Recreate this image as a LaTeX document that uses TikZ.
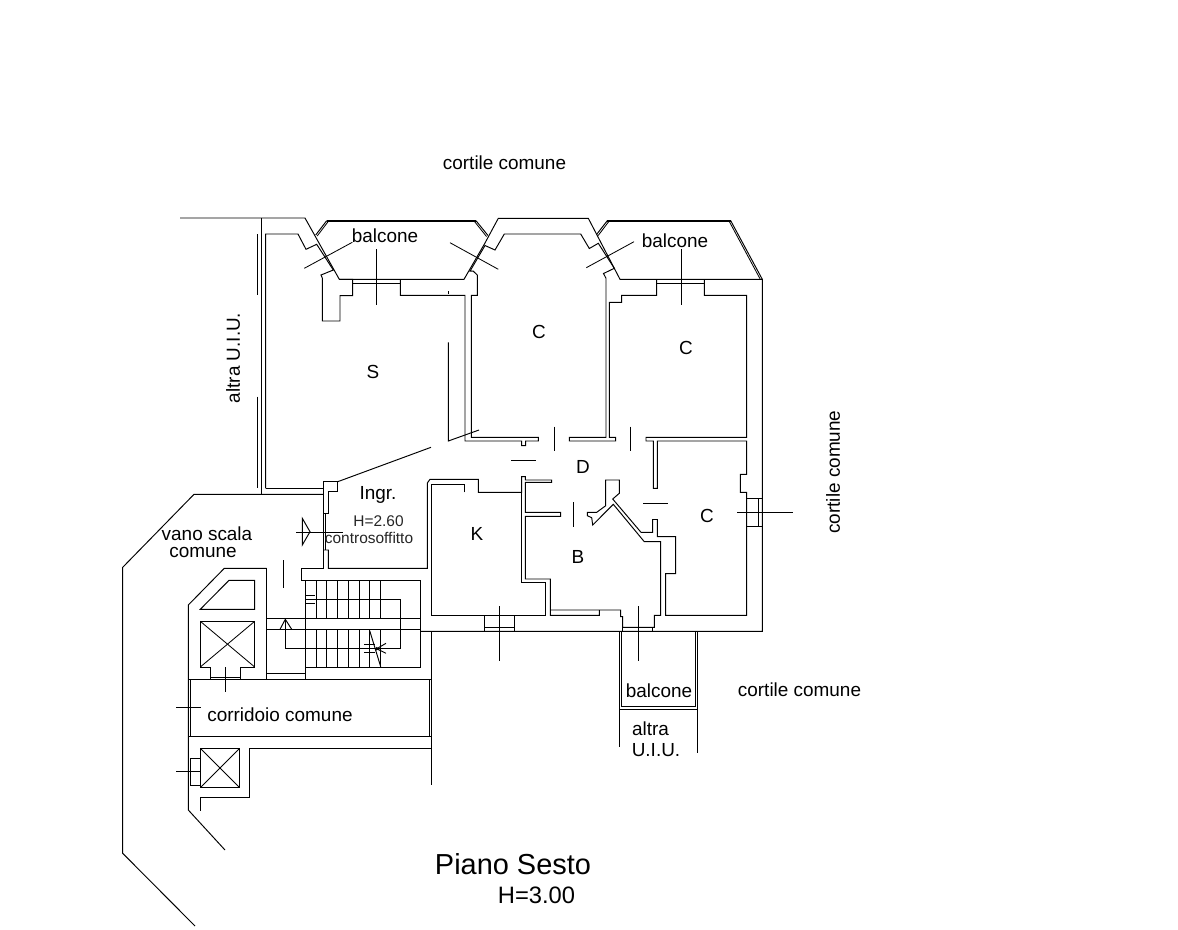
\documentclass[tikz,border=0pt]{standalone}
\usepackage{fontspec}
\setmainfont{Liberation Sans}
\tikzset{
  wall/.style={line width=0.72pt,black,line join=miter},
  thin line/.style={line width=0.62pt,black},
  heavy/.style={line width=1.6pt,black},
  lbl/.style={inner sep=0pt,yshift=-0.75pt,font=\fontsize{14.2}{16}\selectfont},
  smalllbl/.style={inner sep=0pt,font=\fontsize{11.6}{13}\selectfont,text=black!85},
}
\begin{document}
\begin{tikzpicture}[x=0.75pt,y=-0.75pt]
\useasboundingbox (0,0) rectangle (1178,929);
\fill[white] (0,0) rectangle (1178,929);

% ---- outer top edge & S room
\draw[wall] (180,218) -- (305,218) -- (339.3,279.3) -- (352.7,279.3) -- (352.7,295.7) -- (340,295.7) -- (340,321) -- (322.3,321) -- (322.3,278) -- (321,275) -- (333.3,270);
\draw[wall] (261.7,218) -- (261.7,494.3);
\draw[wall] (257.7,234) -- (257.7,295);
\draw[wall] (257.7,396.7) -- (257.7,488.3);
\draw[wall] (265.7,488.3) -- (265.7,234) -- (298,234) -- (306,249.3) -- (316.7,244.3) -- (333.3,270);
\draw[wall] (352.7,283.3) -- (400.3,283.3);
\draw[wall] (339.3,279.3) -- (464,279.3) -- (485,243) -- (498.3,218.3) -- (588.3,218.3) -- (620,279.3) -- (762.3,279.3) -- (762.3,631.3) -- (420.7,631.3);
\draw[wall] (400.3,279.3) -- (400.3,295.3) -- (465,295.3) -- (465,441) -- (521.7,441) -- (521.7,445.7) -- (525.7,445.7) -- (525.7,441) -- (538.3,441) -- (538.3,437.3) -- (471.3,437.3) -- (471.3,295.3) -- (477.3,295.3) -- (477.3,275) -- (473.3,271.2) -- (470,271.2) -- (485,245.5) -- (495,250) -- (504.3,234) -- (580.7,234) -- (589.3,248.5) -- (598.3,243.3) -- (614.3,268.3) -- (603.5,273.5) -- (606,278.3) -- (606,437.3) -- (569.3,437.3) -- (569.3,441) -- (615.7,441) -- (615.7,437.3) -- (609.3,437.3) -- (609.3,302.3) -- (621.7,302.3) -- (621.7,295.3) -- (656.7,295.3) -- (656.7,279.3);
\draw[wall] (656.7,283.3) -- (704.3,283.3);
\draw[wall] (704.3,279.3) -- (704.3,295.3) -- (746.7,295.3) -- (746.7,437.3) -- (646,437.3) -- (646,441) -- (653.3,441) -- (653.3,488.3) -- (657.3,488.3) -- (657.3,441) -- (746.7,441) -- (746.7,474.3) -- (740.3,474.3) -- (740.3,492.3) -- (746.7,492.3) -- (746.7,615.3) -- (665.7,615.3) -- (665.7,573.7) -- (675.7,573.7) -- (675.7,536.7) -- (657.3,536.7) -- (657.3,519.5) -- (652.7,519.5) -- (652.7,532.3) -- (641,532.3) -- (612.7,499) -- (619.3,493.3) -- (619.3,480) -- (605.7,480) -- (605.7,505.7) -- (596.7,512.3) -- (587.3,512.3) -- (587.3,515.7) -- (591.7,517.7) -- (592.7,525) -- (613.3,504.3) -- (644.3,541.7) -- (660.7,541.7) -- (660.7,615.3) -- (654.3,615.3) -- (654.3,627.3) -- (622.7,627.3) -- (622.7,616.7) -- (620.7,616.7) -- (620.7,610) -- (550.3,610);
\draw[wall] (622.7,631.3) -- (622.7,627.3);
\draw[wall] (652.7,631.3) -- (652.7,627.3);
\draw[wall] (746.7,498.3) -- (762.3,498.3);
\draw[wall] (746.7,526.7) -- (762.3,526.7);
\draw[wall] (758.7,498.3) -- (758.7,526.7);

% ---- balconies, top
\draw[heavy] (326.7,220.7) -- (476,220.7);
\draw[heavy] (607.3,220.7) -- (730.7,220.7);
\draw[wall] (326.7,220.7) -- (315.7,235);
\draw[thin line] (328.2,221.5) -- (317.2,236);
\draw[wall] (476,220.7) -- (488,235.5);
\draw[thin line] (474.5,221.5) -- (486.5,236.5);
\draw[wall] (607.3,220.7) -- (596.7,234.3);
\draw[thin line] (608.8,221.5) -- (598.2,235.5);
\draw[wall] (730.7,220.7) -- (762.3,279.3);
\draw[thin line] (729.3,221.5) -- (760.3,279.3);

% ---- hall to S room
\draw[wall] (265.7,488.3) -- (323.3,488.3) -- (323.3,481.7) -- (337.7,481.7) -- (337.7,491.7) -- (328.3,491.7) -- (328.3,513.3) -- (323.3,513.3);
\draw[wall] (323.3,550) -- (328.3,550) -- (328.3,568.3) -- (427.3,568.3) -- (427.3,483) -- (430,479.3) -- (478.3,479.3) -- (478.3,492.3) -- (521.7,492.3) -- (521.7,476.7) -- (525.3,476.7) -- (525.3,480) -- (551.7,480) -- (551.7,482.3) -- (525.3,482.3) -- (525.3,512.3) -- (560.7,512.3) -- (560.7,516.3) -- (525.3,516.3) -- (525.3,579) -- (550.3,579) -- (550.3,615.3) -- (599.3,615.3) -- (599.3,610);
\draw[wall] (337.7,481.7) -- (431,447.3);
\draw[wall] (448.3,342.3) -- (448.3,441) -- (479,430);
\draw[thin line] (448.3,291) -- (448.3,294);

% ---- K
\draw[wall] (464.3,492.3) -- (464.3,484.3) -- (431.3,484.3) -- (431.3,615.3) -- (545.7,615.3) -- (545.7,582.7) -- (521.7,582.7) -- (521.7,492.3);
\draw[wall] (484.3,615.3) -- (484.3,631.3);
\draw[wall] (514.3,615.3) -- (514.3,631.3);
\draw[wall] (484.3,627.3) -- (514.3,627.3);

% ---- stair block and common parts
\draw[wall] (323.3,494.3) -- (194,494.3) -- (122.7,567.3) -- (122.7,853.3) -- (195,926);
\draw[wall] (323.3,481.7) -- (323.3,568.3) -- (301.7,568.3) -- (301.7,580.7) -- (420.7,580.7) -- (420.7,667.3) -- (305.7,667.3);
\draw[thin line] (325.6,513.3) -- (325.6,550);
\draw[wall] (266.7,568.3) -- (224.3,568.3) -- (188.3,605) -- (188.3,810) -- (225,850);
\draw[wall] (266.7,568.3) -- (266.7,679);
\draw[wall] (229,580.3) -- (254.7,580.3) -- (254.7,609.3) -- (200.3,609.3) -- cycle;
\draw[wall] (210.3,679) -- (210.3,667) -- (200.3,667) -- (200.3,621.3) -- (254.7,621.3) -- (254.7,667) -- (240,667) -- (240,679);
\draw[thin line] (200.3,621.3) -- (254.7,667);
\draw[thin line] (254.7,621.3) -- (200.3,667);
\draw[wall] (210.3,677.3) -- (240,677.3);
\draw[wall] (305.7,580.7) -- (305.7,679);
\draw[wall] (266.7,618.3) -- (420.7,618.3);
\draw[wall] (266.7,629.3) -- (420.7,629.3);
\draw[wall] (266.7,673.3) -- (305.7,673.3);
\draw[wall] (305.7,599.3) -- (400.7,599.3) -- (400.7,648.3) -- (285.3,648.3) -- (285.3,619.3);
\foreach \xx in {316.3,326.7,337.7,348.7,359.3,369.7,380.7} {
  \draw[wall] (\xx,580.7) -- (\xx,618.3);
  \draw[wall] (\xx,629.3) -- (\xx,667.3);
}
\draw[wall] (280,629.3) -- (285.3,619.3) -- (291.7,629.3);
\draw[wall] (305.7,595.3) -- (315,595.3);
\draw[wall] (305.7,603.3) -- (315,603.3);
\draw[wall] (369.7,630.7) -- (380.7,666.7);
\draw[wall] (364,644.7) -- (375,644.7);
\draw[wall] (364,652.3) -- (375,652.3);
\draw[wall] (386,643.3) -- (376.7,648.7) -- (386,653.3);
\fill (376.7,648.7) circle (1.8);
\draw[wall] (302.3,518.3) -- (310,531.7) -- (302.3,545) -- cycle;

% ---- corridor
\draw[wall] (188.3,679.3) -- (431.7,679.3);
\draw[wall] (431.7,631.3) -- (431.7,785);
\draw[thin line] (190.6,679.3) -- (190.6,736.3);
\draw[thin line] (429.6,679.3) -- (429.6,736.3);
\draw[wall] (188.3,736.3) -- (431.7,736.3);
\draw[wall] (431.7,748.3) -- (249.3,748.3) -- (249.3,797.3) -- (200.7,797.3) -- (200.7,810.7);
\draw[wall] (200.7,748.7) rectangle (239.3,787.3);
\draw[thin line] (200.7,748.7) -- (239.3,787.3);
\draw[thin line] (239.3,748.7) -- (200.7,787.3);
\draw[thin line] (200.7,758.3) -- (190.6,758.3) -- (190.6,785.7) -- (200.7,785.7);

% ---- lower balcony
\draw[thin line] (619.4,631.3) -- (619.4,747.3);
\draw[thin line] (621.6,631.3) -- (621.6,706.7) -- (695.4,706.7) -- (695.4,631.3);
\draw[thin line] (697.6,631.3) -- (697.6,752.7);
\draw[thin line] (619.4,709) -- (697.6,709);

% ---- window and door tick lines
\draw[thin line] (304.3,268.3) -- (352.3,242.3);
\draw[thin line] (376.3,249) -- (376.3,305);
\draw[thin line] (450,242.7) -- (498.3,269.3);
\draw[thin line] (586.3,267.7) -- (634,241.7);
\draw[thin line] (681,249) -- (681,305);
\draw[thin line] (554.3,426.7) -- (554.3,450.7);
\draw[thin line] (630.7,426.7) -- (630.7,450.7);
\draw[thin line] (511,460) -- (535.7,460);
\draw[thin line] (643.3,503.3) -- (667.7,503.3);
\draw[thin line] (737.3,512.3) -- (792.7,512.3);
\draw[thin line] (573.7,502.3) -- (573.7,526.7);
\draw[thin line] (296,532.3) -- (343.3,532.3);
\draw[thin line] (283.7,560) -- (283.7,588.3);
\draw[thin line] (225.7,667) -- (225.7,691.7);
\draw[thin line] (176,707.3) -- (200.7,707.3);
\draw[thin line] (176,771) -- (200.7,771);
\draw[thin line] (499.3,606) -- (499.3,661.3);
\draw[thin line] (638.3,606) -- (638.3,661.3);

% ---- labels
\node[lbl] (t1) at (504.5,162) {cortile comune};
\node[lbl] (t2) at (385,235) {balcone};
\node[lbl] (t3) at (675,240) {balcone};
\node[lbl] (t4) at (539,331) {C};
\node[lbl] (t5) at (686,347) {C};
\node[lbl] (t6) at (373,371) {S};
\node[lbl,rotate=90] (t7) at (233,357) {altra U.I.U.};
\node[lbl,rotate=90] (t8) at (833,471) {cortile comune};
\node[lbl] (t9) at (583,466) {D};
\node[lbl] (t10) at (378,493.5) {Ingr.};
\node[smalllbl] (t11) at (378.5,521) {H=2.60};
\node[smalllbl] (t12) at (369,538) {controsoffitto};
\node[lbl] (t13) at (477,533) {K};
\node[lbl] (t14) at (707,515) {C};
\node[lbl] (t15) at (578,556) {B};
\node[lbl] (t16) at (207,532.5) {vano scala};
\node[lbl] (t17) at (203,551.5) {comune};
\node[lbl] (t18) at (659,690) {balcone};
\node[lbl] (t19) at (799.5,688.5) {cortile comune};
\node[lbl] (t20) at (650.5,727.5) {altra};
\node[lbl] (t21) at (656,749.5) {U.I.U.};
\node[lbl] (t22) at (280,713.5) {corridoio comune};
\node[inner sep=0pt,font=\fontsize{21.7}{24}\selectfont] (t23) at (513,864) {Piano Sesto};
\node[inner sep=0pt,font=\fontsize{17.8}{20}\selectfont] (t24) at (536.5,895) {H=3.00};
\end{tikzpicture}
\end{document}
